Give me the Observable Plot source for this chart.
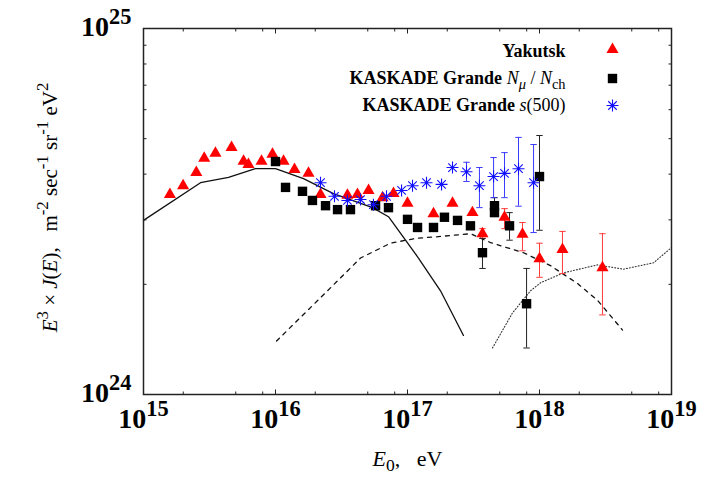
<!DOCTYPE html>
<html><head><meta charset="utf-8">
<script src="https://cdn.jsdelivr.net/npm/d3@7"></script>
<script src="https://cdn.jsdelivr.net/npm/@observablehq/plot@0.6"></script>
<style>body{margin:0;background:#fff} svg{display:block}</style>
</head><body><div id="chart"></div>
<script>
// ---- data (E as log10(E/eV), J in units of 1e24) ----
const yakLogE = [15.20,15.30,15.40,15.46,15.545,15.667,15.758,15.795,15.894,15.977,16.061,16.144,16.25,16.341,16.545,16.621,16.705,16.811,16.894,17.0,17.197,17.341,17.492,17.568,17.735,17.871,18.0,18.174,18.477];
const yakJ    = [3.52,3.72,4.04,4.42,4.56,4.73,4.34,4.25,4.34,4.53,4.34,4.12,4.02,3.52,3.50,3.52,3.61,3.45,3.54,3.33,3.12,3.33,3.14,2.75,3.05,2.74,2.35,2.49,2.22];
const yakLo   = [null,null,null,null,null,null,null,null,null,null,null,null,null,null,null,null,null,null,null,null,null,null,null,2.67,2.84,2.47,2.09,2.14,1.65];
const yakHi   = [null,null,null,null,null,null,null,null,null,null,null,null,null,null,null,null,null,null,null,null,null,null,null,2.84,3.22,2.95,2.59,2.79,2.75];

const kgmLogE = [16.0,16.076,16.2045,16.28,16.379,16.47,16.568,16.758,16.856,17.0,17.076,17.197,17.28,17.379,17.477,17.568,17.659,17.659,17.773,17.902,18.0];
const kgmJ    = [4.33,3.68,3.59,3.39,3.28,3.20,3.20,3.28,3.24,3.01,2.86,2.86,3.05,2.99,2.89,2.44,3.28,3.14,2.89,1.77,3.94];
const kgmLo   = [null,null,null,null,null,null,null,null,null,null,null,null,null,null,null,2.21,3.14,null,2.64,1.34,2.81];
const kgmHi   = [null,null,null,null,null,null,null,null,null,null,null,null,null,null,null,2.67,3.45,null,3.14,2.21,5.10];

const kgsLogE = [16.341,16.447,16.545,16.644,16.742,16.841,16.955,17.038,17.144,17.258,17.341,17.447,17.545,17.652,17.735,17.841,17.955];
const kgsJ    = [3.79,3.48,3.39,3.41,3.30,3.48,3.61,3.72,3.79,3.75,4.17,4.06,3.72,3.94,4.02,4.14,3.79];
const kgsLo   = [null,null,null,null,null,null,null,null,null,null,null,3.82,3.24,3.45,3.45,3.27,2.77];
const kgsHi   = [null,null,null,null,null,null,null,null,null,null,null,4.31,4.17,4.44,4.58,5.04,4.82];

const solidLogE  = [15.0,15.432,15.644,15.848,16.0,16.212,16.439,16.735,16.856,17.083,17.25,17.424];
const solidJ     = [2.99,3.79,3.92,4.14,4.14,3.89,3.54,3.24,3.06,2.36,1.92,1.45];
const dashedLogE = [16.008,16.394,16.644,16.871,17.061,17.235,17.477,17.629,17.879,18.083,18.288,18.439,18.629];
const dashedJ    = [1.40,1.92,2.36,2.59,2.67,2.70,2.75,2.60,2.44,2.25,2.01,1.81,1.50];
const dottedLogE = [17.644,17.795,17.932,18.008,18.182,18.439,18.636,18.864,19.0];
const dottedJ    = [1.34,1.67,1.92,2.02,2.15,2.26,2.20,2.29,2.52];

const xTickExp = [15,16,17,18,19];
const xMinorMult = [2,5,8];
const yTickExp = [24,25];
const yMinorMult = [2,3,4,5,6,7,8,9];
const legendLabels = ["Yakutsk", "KASKADE Grande *N*_{*μ*}# / #*N*_{#ch#}", "KASKADE Grande *s*#(500)#"];
const xLabel = "*E*_{0},\u00a0\u00a0\u00a0eV";
const yLabel = "*E*^{3} × *J*(*E*),\u00a0\u00a0\u00a0m^{-2} sec^{-1} sr^{-1} eV^{2}";

// ---- tables ----
const pts = (le, j, lo, hi) => le.map((e, i) => ({E: 10 ** e, J: j[i], lo: lo ? lo[i] : null, hi: hi ? hi[i] : null}));
const yak = pts(yakLogE, yakJ, yakLo, yakHi);
const kgm = pts(kgmLogE, kgmJ, kgmLo, kgmHi);
const kgs = pts(kgsLogE, kgsJ, kgsLo, kgsHi);
const solid = pts(solidLogE, solidJ), dashed = pts(dashedLogE, dashedJ), dotted = pts(dottedLogE, dottedJ);
const xMajor = xTickExp.map(e => 10 ** e);
const xMinor = xTickExp.slice(0, -1).flatMap(e => xMinorMult.map(m => m * 10 ** e));
const yMinor = yTickExp.slice(0, -1).flatMap(e => yMinorMult.map(m => m * 10 ** (e - 24)));

// ---- custom symbols ----
const R = s => Math.sqrt(s / Math.PI);
const star = {draw(c, s) { const r = R(s), d = r * Math.SQRT1_2;
  c.moveTo(-r, 0); c.lineTo(r, 0); c.moveTo(0, -r); c.lineTo(0, r);
  c.moveTo(-d, -d); c.lineTo(d, d); c.moveTo(-d, d); c.lineTo(d, -d); }};
const cap = {draw(c, s) { const r = R(s); c.moveTo(-r, 0); c.lineTo(r, 0); }};
const tUp = {draw(c, s) { c.moveTo(0, 0); c.lineTo(0, -R(s)); }};
const tDown = {draw(c, s) { c.moveTo(0, 0); c.lineTo(0, R(s)); }};
const tRight = {draw(c, s) { c.moveTo(0, 0); c.lineTo(R(s), 0); }};
const tLeft = {draw(c, s) { c.moveTo(0, 0); c.lineTo(-R(s), 0); }};

const errMarks = (data, color) => {
  const e = data.filter(d => d.lo != null);
  return [
    Plot.ruleX(e, {x: "E", y1: "lo", y2: "hi", stroke: color, strokeWidth: 1}),
    Plot.dot(e, {x: "E", y: "lo", symbol: cap, r: 3.2, stroke: color, fill: "none", strokeWidth: 1}),
    Plot.dot(e, {x: "E", y: "hi", symbol: cap, r: 3.2, stroke: color, fill: "none", strokeWidth: 1})
  ];
};
const tickMarks = (vals, ch, anchor, sym, len) => Plot.dot(vals, {[ch]: d => d, frameAnchor: anchor, symbol: sym, r: len, stroke: "#222", fill: "none", strokeWidth: 1});

const legendDy = [23, 50, 77];
const legendSym = [
  {symbol: "triangle", fill: "#ff0000", r: 4.5},
  {symbol: "square", fill: "#000", r: 5.3},
  {symbol: star, fill: "none", stroke: "#1010ff", r: 6, strokeWidth: 1.1}
];

const chart = Plot.plot({
  width: 706, height: 494,
  marginLeft: 143, marginRight: 35, marginTop: 28, marginBottom: 100,
  x: {type: "log", domain: [1e15, 1e19], axis: null},
  y: {type: "log", domain: [1, 10], axis: null},
  style: {fontFamily: "'Liberation Serif','Times New Roman',serif", background: "#fff", color: "#000"},
  marks: [
    Plot.line(solid, {x: "E", y: "J", stroke: "#111", strokeWidth: 1.3}),
    Plot.line(dashed, {x: "E", y: "J", stroke: "#111", strokeWidth: 1.3, strokeDasharray: "4,5"}),
    Plot.line(dotted, {x: "E", y: "J", stroke: "#333", strokeWidth: 1.1, strokeDasharray: "1,2"}),
    ...errMarks(yak, "#ff3b3b"),
    ...errMarks(kgm, "#222"),
    ...errMarks(kgs, "#3a3aff"),
    Plot.dot(yak, {x: "E", y: "J", symbol: "triangle", fill: "#ff0000", r: 4.5}),
    Plot.dot(kgm, {x: "E", y: "J", symbol: "square", fill: "#000", r: 5.3}),
    Plot.dot(kgs, {x: "E", y: "J", symbol: star, fill: "none", stroke: "#1010ff", r: 6, strokeWidth: 1.1}),
    Plot.frame({stroke: "#222", strokeWidth: 1.5}),
    tickMarks(xMajor, "x", "bottom", tUp, 5), tickMarks(xMinor, "x", "bottom", tUp, 3),
    tickMarks(xMajor, "x", "top", tDown, 5), tickMarks(xMinor, "x", "top", tDown, 3),
    tickMarks(yMinor, "y", "left", tRight, 3), tickMarks(yMinor, "y", "right", tLeft, 3),
    Plot.text(xTickExp, {x: d => 10 ** d, text: d => `10^{${d}}`, frameAnchor: "bottom", dy: 25, fontSize: 28, fontWeight: "bold", lineAnchor: "middle", textAnchor: "middle"}),
    Plot.text(yTickExp, {y: d => 10 ** (d - 24), text: d => `10^{${d}}`, frameAnchor: "left", textAnchor: "end", dx: -12, dy: -1, fontSize: 28, fontWeight: "bold", lineAnchor: "middle"}),
    Plot.text([xLabel], {frameAnchor: "bottom", dy: 64, fontSize: 22, lineAnchor: "middle", textAnchor: "middle"}),
    Plot.text([yLabel], {frameAnchor: "left", dx: -93, dy: -4, rotate: -90, fontSize: 21, lineAnchor: "middle", textAnchor: "middle"}),
    ...legendLabels.map((t, i) => Plot.text([t], {frameAnchor: "top-right", dx: -106, dy: legendDy[i], textAnchor: "end", fontSize: 18, fontWeight: "bold", lineAnchor: "middle"})),
    ...legendSym.map((s, i) => Plot.dot([0], {frameAnchor: "top-right", dx: -59, dy: legendDy[i] - (i === 0 ? 2 : 0), ...s}))
  ]
});

// ---- rich text: ^{sup} _{sub} *italic* #normal-weight# ----
function richify(el) {
  const src = el.textContent;
  if (!/[\^_*#]/.test(src)) return;
  const holder = el.closest("[font-size]");
  const fs = parseFloat(holder ? holder.getAttribute("font-size") : 16) || 16;
  const re = /\^\{([^}]*)\}|_\{([^}]*)\}|\*([^*]+)\*|#([^#]+)#|([^^_*#]+)/g;
  const segs = [];
  let m;
  while ((m = re.exec(src))) {
    if (m[1] !== undefined || m[2] !== undefined) {
      let inner = m[1] !== undefined ? m[1] : m[2], it = false, nw = false, mm;
      if ((mm = /^\*(.*)\*$/.exec(inner))) { inner = mm[1]; it = true; nw = true; }
      else if ((mm = /^#(.*)#$/.exec(inner))) { inner = mm[1]; nw = true; }
      segs.push({t: inner, mode: m[1] !== undefined ? "sup" : "sub", it, nw});
    } else if (m[3] !== undefined) segs.push({t: m[3], mode: "n", it: true, nw: true});
    else if (m[4] !== undefined) segs.push({t: m[4], mode: "n", it: false, nw: true});
    else segs.push({t: m[5], mode: "n", it: false, nw: false});
  }
  el.textContent = "";
  let cur = 0;
  for (const s of segs) {
    const off = s.mode === "sup" ? -0.45 * fs : s.mode === "sub" ? 0.25 * fs : 0;
    const ts = document.createElementNS("http://www.w3.org/2000/svg", "tspan");
    if (off !== cur) ts.setAttribute("dy", off - cur);
    cur = off;
    if (s.mode !== "n") ts.setAttribute("font-size", 0.8 * fs);
    if (s.it) ts.setAttribute("font-style", "italic");
    if (s.nw) ts.setAttribute("font-weight", "normal");
    ts.textContent = s.t;
    el.appendChild(ts);
  }
}
chart.querySelectorAll("text").forEach(richify);
document.getElementById("chart").appendChild(chart);
</script></body></html>
